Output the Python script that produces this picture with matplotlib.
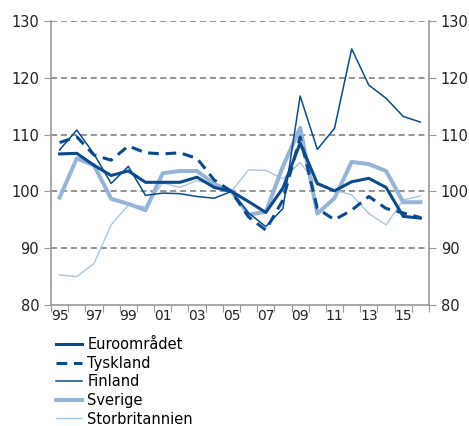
import matplotlib
matplotlib.use("Agg")
from matplotlib import pyplot as plt

years = list(range(1995, 2017))

euro = [106.6, 106.7, 104.6, 102.8, 103.6, 101.6, 101.6, 101.6, 102.5, 100.7, 100.0,
        98.2, 96.3, 100.6, 108.5, 101.4, 100.1, 101.7, 102.3, 100.7, 95.6, 95.3]
tyskland = [108.6, 109.6, 106.4, 105.5, 108.0, 106.8, 106.6, 106.8, 105.8, 102.0, 100.0,
            95.5, 93.2, 98.5, 109.6, 97.0, 95.0, 96.7, 99.1, 97.0, 96.2, 95.4]
finland = [107.3, 110.8, 106.6, 101.4, 104.4, 99.3, 99.7, 99.6, 99.1, 98.8, 100.0,
           96.2, 93.8, 97.0, 116.8, 107.4, 111.1, 125.1, 118.7, 116.4, 113.2, 112.2]
sverige = [98.9, 105.8, 104.6, 98.7, 97.8, 96.7, 103.2, 103.6, 103.6, 101.3, 100.0,
           95.9, 96.4, 104.4, 111.2, 96.1, 98.8, 105.2, 104.8, 103.6, 98.1, 98.1]
storbritannien = [85.3, 85.0, 87.3, 94.1, 97.6, 97.3, 101.5, 100.7, 101.9, 101.1, 100.0,
                  103.8, 103.7, 102.2, 105.1, 101.1, 100.2, 99.4, 96.1, 94.1, 98.5, 99.2]

dark = '#0b4a8f'
light1 = '#96b4d8'
light2 = '#abc5e3'

plt.rcParams['font.family'] = 'DejaVu Sans'
fig = plt.figure(figsize=(4.69, 4.26), dpi=100)
ax = fig.add_axes([51 / 469, 1 - 305 / 426, 378 / 469, 284 / 426])

ax.plot(years, storbritannien, color=light2, lw=1.0, label='Storbritannien', zorder=3)
ax.plot(years, sverige, color=light1, lw=2.9, label='Sverige', zorder=4)
ax.plot(years, finland, color=dark, lw=1.1, label='Finland', zorder=5)
ax.plot(years, tyskland, color=dark, lw=2.2, ls=(0, (3.5, 2.2)), label='Tyskland', zorder=6)
ax.plot(years, euro, color=dark, lw=2.2, label='Euroområdet', zorder=7)

ax.set_xlim(1994.5, 2016.5)
ax.set_ylim(80, 130)
ax.set_yticks(range(80, 131, 10))
ax.set_xticks([y + 0.5 for y in range(1994, 2017)])
ax.set_xticks(range(1995, 2016, 2), minor=True)
ax.set_xticklabels([])
ax.set_xticklabels(['%02d' % (y % 100) for y in range(1995, 2016, 2)], minor=True)
ax.tick_params(axis='x', which='major', length=5, color='#999999')
ax.tick_params(axis='x', which='minor', length=0, labelsize=10, pad=3, labelcolor='#222222')
ax.tick_params(axis='y', length=5, color='#999999', labelsize=10.5,
               right=True, labelright=True, labelcolor='#222222')

for y in range(90, 131, 10):
    ax.axhline(y, color='#777777', lw=1.1, ls=(0, (4, 2.5)), zorder=1)

ax.spines['top'].set_visible(False)
for s in ['left', 'right', 'bottom']:
    ax.spines[s].set_color('#999999')
    ax.spines[s].set_linewidth(1.2)

h, l = ax.get_legend_handles_labels()
order = [4, 3, 2, 1, 0]
fig.legend([h[i] for i in order], [l[i] for i in order], loc='upper left',
           bbox_to_anchor=(56 / 469, 1 - 337 / 426), frameon=False, fontsize=10.5,
           handlelength=1.8, handletextpad=0.35, labelspacing=0.25, borderpad=0,
           borderaxespad=0)

fig.savefig('out.png', dpi=100)
